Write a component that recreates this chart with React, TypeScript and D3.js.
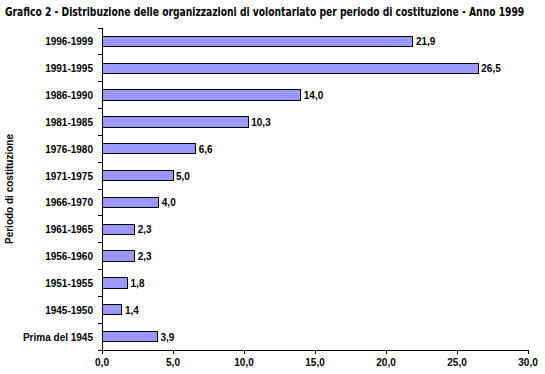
import React, { useRef, useEffect } from 'react';
import * as d3 from 'd3';

const periods = [
  '1996-1999', '1991-1995', '1986-1990', '1981-1985', '1976-1980', '1971-1975',
  '1966-1970', '1961-1965', '1956-1960', '1951-1955', '1945-1950', 'Prima del 1945',
];
const shares = [21.9, 26.5, 14.0, 10.3, 6.6, 5.0, 4.0, 2.3, 2.3, 1.8, 1.4, 3.9];
const xTicks = [0, 5, 10, 15, 20, 25, 30];

const NARROW = "'Liberation Sans Narrow', 'DejaVu Sans Condensed', 'Liberation Sans', Arial, sans-serif";
const FONT = "'Liberation Sans', Arial, sans-serif";
const fmt = (v: number) => v.toFixed(1).replace('.', ',');

const App: React.FC = () => {
  const ref = useRef<SVGSVGElement | null>(null);

  useEffect(() => {
    const svg = d3.select(ref.current);
    svg.selectAll('*').remove();

    const left = 102, right = 528, top = 28, bottom = 350;

    const x = d3.scaleLinear().domain([0, 30]).range([left, right]);
    const y = d3.scaleBand().domain(periods).range([top, bottom]).paddingInner(0.62).paddingOuter(0.31);
    const step = y.step();

    // title, squeezed horizontally to fit the width like the original
    const title = svg.append('text')
      .attr('x', 0).attr('y', 0)
      .attr('font-family', NARROW).attr('font-weight', 'bold').attr('font-size', 12)
      .text('Grafico 2 - Distribuzione delle organizzazioni di volontariato per periodo di costituzione - Anno 1999');
    const natural = (title.node() as SVGTextElement).getComputedTextLength() || 520;
    title.attr('transform', `translate(5,16) scale(${Math.min(1, 520 / natural)},1)`);

    // bars
    svg.append('g').selectAll('rect')
      .data(shares)
      .join('rect')
      .attr('x', x(0))
      .attr('y', (_, i) => y(periods[i])!)
      .attr('width', d => x(d) - x(0))
      .attr('height', y.bandwidth())
      .attr('fill', '#9999ff')
      .attr('stroke', '#000')
      .attr('stroke-width', 1)
      .attr('shape-rendering', 'crispEdges');

    // value labels
    svg.append('g').selectAll('text')
      .data(shares)
      .join('text')
      .attr('x', d => x(d) + 3)
      .attr('y', (_, i) => y(periods[i])! + y.bandwidth() / 2 + 4)
      .attr('font-family', FONT).attr('font-weight', 'bold').attr('font-size', 10)
      .text(d => fmt(d));

    // y axis line and ticks between categories
    const yg = svg.append('g').attr('shape-rendering', 'crispEdges');
    yg.append('line').attr('x1', left).attr('x2', left).attr('y1', top).attr('y2', bottom).attr('stroke', '#000');
    d3.range(periods.length + 1).forEach(i => {
      yg.append('line')
        .attr('x1', left - 4).attr('x2', left)
        .attr('y1', top + i * step).attr('y2', top + i * step)
        .attr('stroke', '#000');
    });
    yg.selectAll('text.cat')
      .data(periods)
      .join('text')
      .attr('class', 'cat')
      .attr('x', 93)
      .attr('y', d => y(d)! + y.bandwidth() / 2 + 4)
      .attr('text-anchor', 'end')
      .attr('font-family', FONT).attr('font-weight', 'bold').attr('font-size', 10)
      .text(d => d);

    // x axis
    const xg = svg.append('g').attr('shape-rendering', 'crispEdges');
    xg.append('line').attr('x1', left).attr('x2', right).attr('y1', bottom).attr('y2', bottom).attr('stroke', '#000');
    xg.selectAll('line.tick')
      .data(xTicks)
      .join('line')
      .attr('class', 'tick')
      .attr('x1', d => x(d)).attr('x2', d => x(d))
      .attr('y1', bottom).attr('y2', bottom + 4)
      .attr('stroke', '#000');
    xg.selectAll('text')
      .data(xTicks)
      .join('text')
      .attr('x', d => x(d))
      .attr('y', 366)
      .attr('text-anchor', 'middle')
      .attr('font-family', FONT).attr('font-weight', 'bold').attr('font-size', 10)
      .text(d => fmt(d));

    // y axis title
    svg.append('text')
      .attr('transform', `translate(13,${(top + bottom) / 2}) rotate(-90)`)
      .attr('text-anchor', 'middle')
      .attr('font-family', FONT).attr('font-weight', 'bold').attr('font-size', 10)
      .text('Periodo di costituzione');
  }, []);

  return <svg ref={ref} width={545} height={374} style={{ position: 'absolute', left: 0, top: 0, background: '#fff' }} />;
};

export default App;
